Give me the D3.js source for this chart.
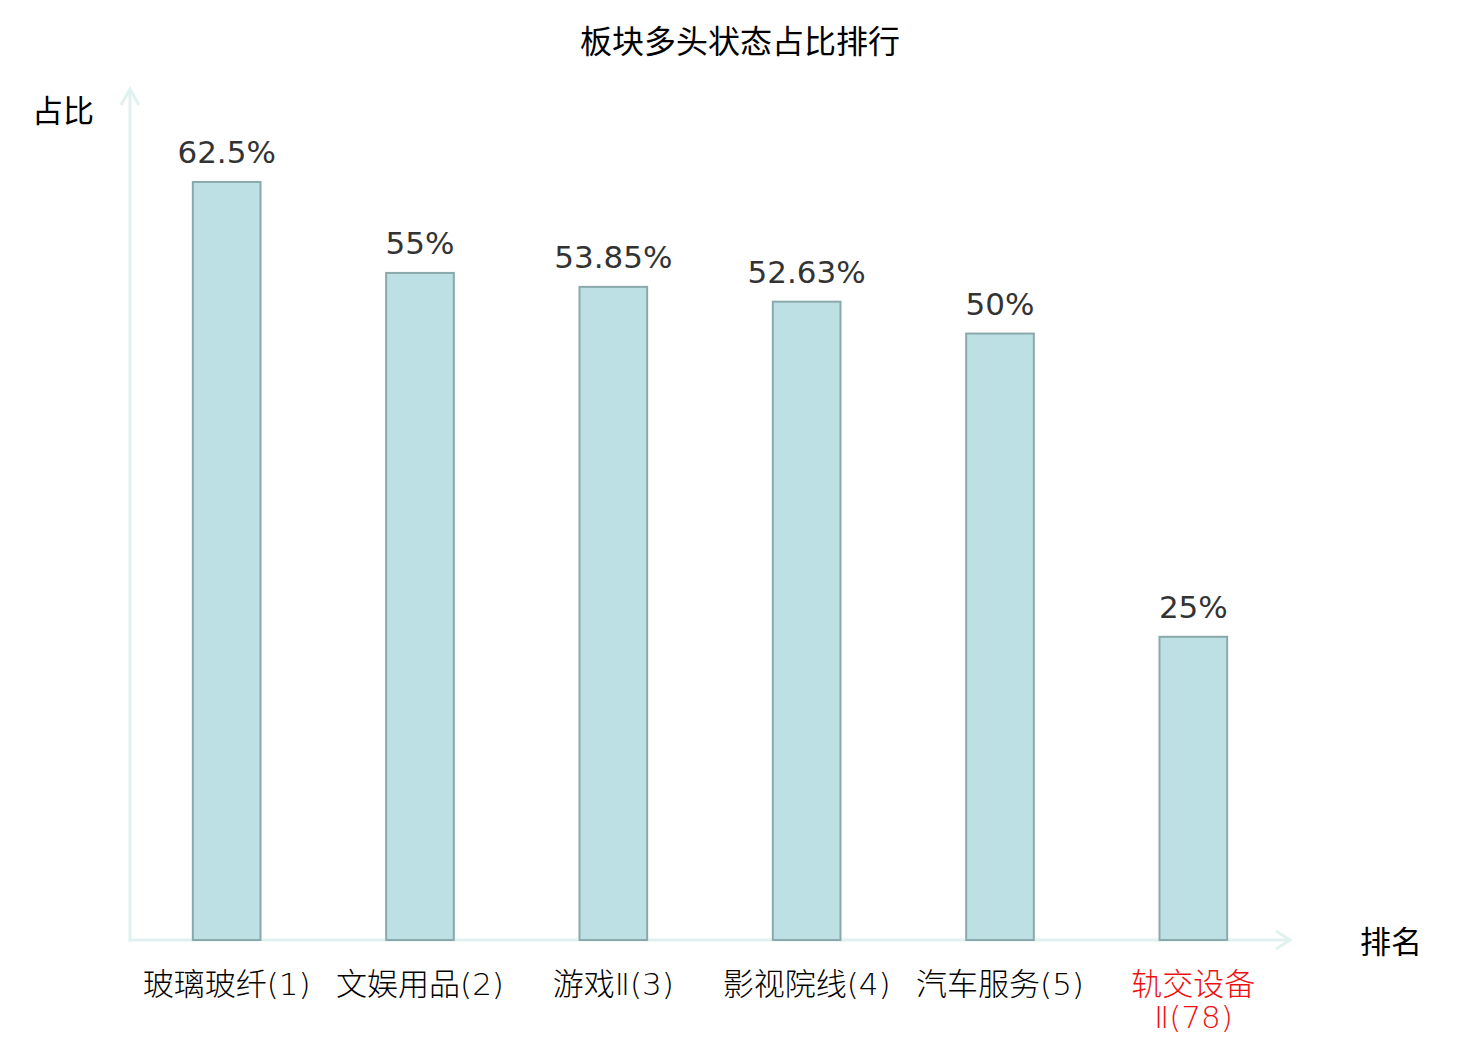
<!DOCTYPE html>
<html>
<head>
<meta charset="utf-8">
<script src="https://cdn.jsdelivr.net/npm/d3@7"></script>
<style>
  body { margin: 0; background: #fff; }
  svg { display: block; }
</style>
</head>
<body>
<svg id="chart"></svg>
<script>
// data
var categories = ['玻璃玻纤(1)', '文娱用品(2)', '游戏Ⅱ(3)', '影视院线(4)', '汽车服务(5)', '轨交设备Ⅱ(78)'];
var shares = [62.5, 55, 53.85, 52.63, 50, 25];
var highlightIndex = 5; // the sector of interest, drawn in red

var width = 1480, height = 1040;
var cjk = '"Noto Sans CJK SC", "DejaVu Sans", sans-serif';
var latin = '"DejaVu Sans", "Noto Sans CJK SC", sans-serif';

var svg = d3.select('#chart').attr('width', width).attr('height', height);

var x0 = 130, x1 = 1290, yBase = 940, yTop = 91;

var xScale = d3.scaleBand()
    .domain(categories)
    .range([x0, x1])
    .paddingInner(0.65)
    .paddingOuter(0.325);

var yScale = d3.scaleLinear()
    .domain([0, 70])
    .range([yBase, yTop]);

// title
svg.append('text')
    .attr('x', width / 2).attr('y', 53)
    .attr('text-anchor', 'middle')
    .style('font-family', cjk).style('font-size', '32px').attr('fill', '#000')
    .text('板块多头状态占比排行');

// axes with open arrow heads
var axisColor = '#dff2ef';
var axisG = svg.append('g');
axisG.append('line')
    .attr('x1', x0).attr('y1', yBase + 1.5).attr('x2', x0).attr('y2', yTop - 2)
    .attr('stroke', axisColor).attr('stroke-width', 3);
axisG.append('line')
    .attr('x1', x0 - 1.5).attr('y1', yBase).attr('x2', x1).attr('y2', yBase)
    .attr('stroke', axisColor).attr('stroke-width', 3);
axisG.append('path')
    .attr('d', `M${x0 - 9},${yTop + 14} L${x0},${yTop - 2} L${x0 + 9},${yTop + 14}`)
    .attr('fill', 'none').attr('stroke', axisColor).attr('stroke-width', 3);
axisG.append('path')
    .attr('d', `M${x1 - 14},${yBase - 9} L${x1},${yBase} L${x1 - 14},${yBase + 9}`)
    .attr('fill', 'none').attr('stroke', axisColor).attr('stroke-width', 3);

// axis names
svg.append('text')
    .attr('x', 63).attr('y', 122)
    .attr('text-anchor', 'middle')
    .style('font-family', cjk).style('font-size', '31px').attr('fill', '#000')
    .text('占比');
svg.append('text')
    .attr('x', 1391).attr('y', 953)
    .attr('text-anchor', 'middle')
    .style('font-family', cjk).style('font-size', '31px').attr('fill', '#000')
    .text('排名');

// bars
var data = categories.map((c, i) => ({ name: c, value: shares[i], i: i }));

svg.append('g').selectAll('rect')
    .data(data)
    .join('rect')
    .attr('x', d => xScale(d.name))
    .attr('y', d => yScale(d.value))
    .attr('width', xScale.bandwidth())
    .attr('height', d => yScale(0) - yScale(d.value))
    .attr('fill', '#bce0e3')
    .attr('stroke', '#8aa9ab')
    .attr('stroke-width', 2);

// value labels
svg.append('g').selectAll('text')
    .data(data)
    .join('text')
    .attr('x', d => xScale(d.name) + xScale.bandwidth() / 2)
    .attr('y', d => yScale(d.value) - 19)
    .attr('text-anchor', 'middle')
    .style('font-family', latin).style('font-size', '31px')
    .attr('fill', '#333')
    .text(d => d.value + '%');

// category labels, wrapped (CJK per char, latin runs as words) when wider than the slot
var maxLabelWidth = xScale.step();
var labelG = svg.append('g');
data.forEach(function(d){
    var cx = xScale(d.name) + xScale.bandwidth() / 2;
    var t = labelG.append('text')
        .attr('x', cx)
        .attr('y', 995)
        .attr('text-anchor', 'middle')
        .style('font-family', latin).style('font-size', '31px')
        .style('font-weight', 200)
        .attr('fill', d.i === highlightIndex ? '#ee1111' : '#000');
    var tokens = d.name.match(/[\u4e00-\u9fff]|[^\u4e00-\u9fff]+/g);
    var line = '', lines = [];
    var probe = t.append('tspan');
    tokens.forEach(function(tk){
        probe.text(line + tk);
        if (probe.node().getComputedTextLength() > maxLabelWidth && line) {
            lines.push(line);
            line = tk;
        } else {
            line += tk;
        }
    });
    lines.push(line);
    probe.remove();
    lines.forEach(function(l, k){
        t.append('tspan')
            .attr('x', cx)
            .attr('dy', k === 0 ? 0 : 33)
            .text(l);
    });
});
</script>
</body>
</html>
